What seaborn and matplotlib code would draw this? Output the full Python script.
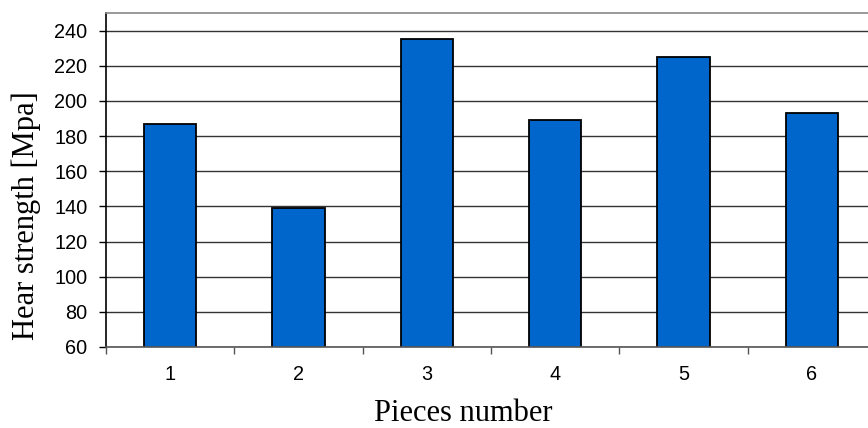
import matplotlib
matplotlib.use("Agg")
import matplotlib.pyplot as plt
import seaborn as sns
import pandas as pd
from matplotlib.ticker import FixedLocator

pieces = ["1", "2", "3", "4", "5", "6"]
strength = [187, 139, 235, 189, 225, 193]
y_ticks = [60, 80, 100, 120, 140, 160, 180, 200, 220, 240]

sns.set_style("white")
plt.rcParams["font.family"] = ["Liberation Sans", "DejaVu Sans"]

df = pd.DataFrame({"piece": pieces, "strength": strength})

fig = plt.figure(figsize=(8.68, 4.28), dpi=100)
ax = fig.add_axes([106 / 868, 81 / 428, 770 / 868, 334 / 428])

ax.set_axisbelow(True)
ax.yaxis.grid(True, color="#333333", linewidth=1.0)
ax.xaxis.grid(False)

sns.barplot(data=df, x="piece", y="strength", color="#0066CC", width=0.41,
            edgecolor="black", linewidth=1.3, saturation=1, ax=ax)

ax.set_ylim(60, 250)
ax.set_xlim(-0.5, 5.5)
ax.set_yticks(y_ticks)
ax.set_yticklabels([str(v) for v in y_ticks])
ax.xaxis.set_minor_locator(FixedLocator([i - 0.5 for i in range(len(pieces) + 1)]))

ax.tick_params(axis="y", which="major", direction="out", length=5, width=1,
               color="black", labelsize=14.3, pad=8.5, left=True,
               labelcolor="black")
ax.tick_params(axis="x", which="major", length=0, labelsize=14.3, pad=12.6,
               labelcolor="black")
ax.tick_params(axis="x", which="minor", direction="out", length=5, width=1,
               color="#555555", bottom=True)

ax.spines["left"].set_color("black")
ax.spines["left"].set_linewidth(1.2)
ax.spines["bottom"].set_color("#555555")
ax.spines["bottom"].set_linewidth(1.2)
ax.spines["top"].set_color("#888888")
ax.spines["top"].set_linewidth(1.2)
ax.spines["right"].set_visible(False)

ax.set_ylabel("Hear strength [Mpa]", family=["Liberation Serif"], fontsize=22,
              va="center", ha="center", color="black")
ax.yaxis.set_label_coords(-0.103, 0.394)
ax.set_xlabel("Pieces number", family=["Liberation Serif"], fontsize=22,
              va="center", ha="center", color="black")
ax.xaxis.set_label_coords(0.4635, -0.198)

fig.savefig("out.png", dpi=100)
